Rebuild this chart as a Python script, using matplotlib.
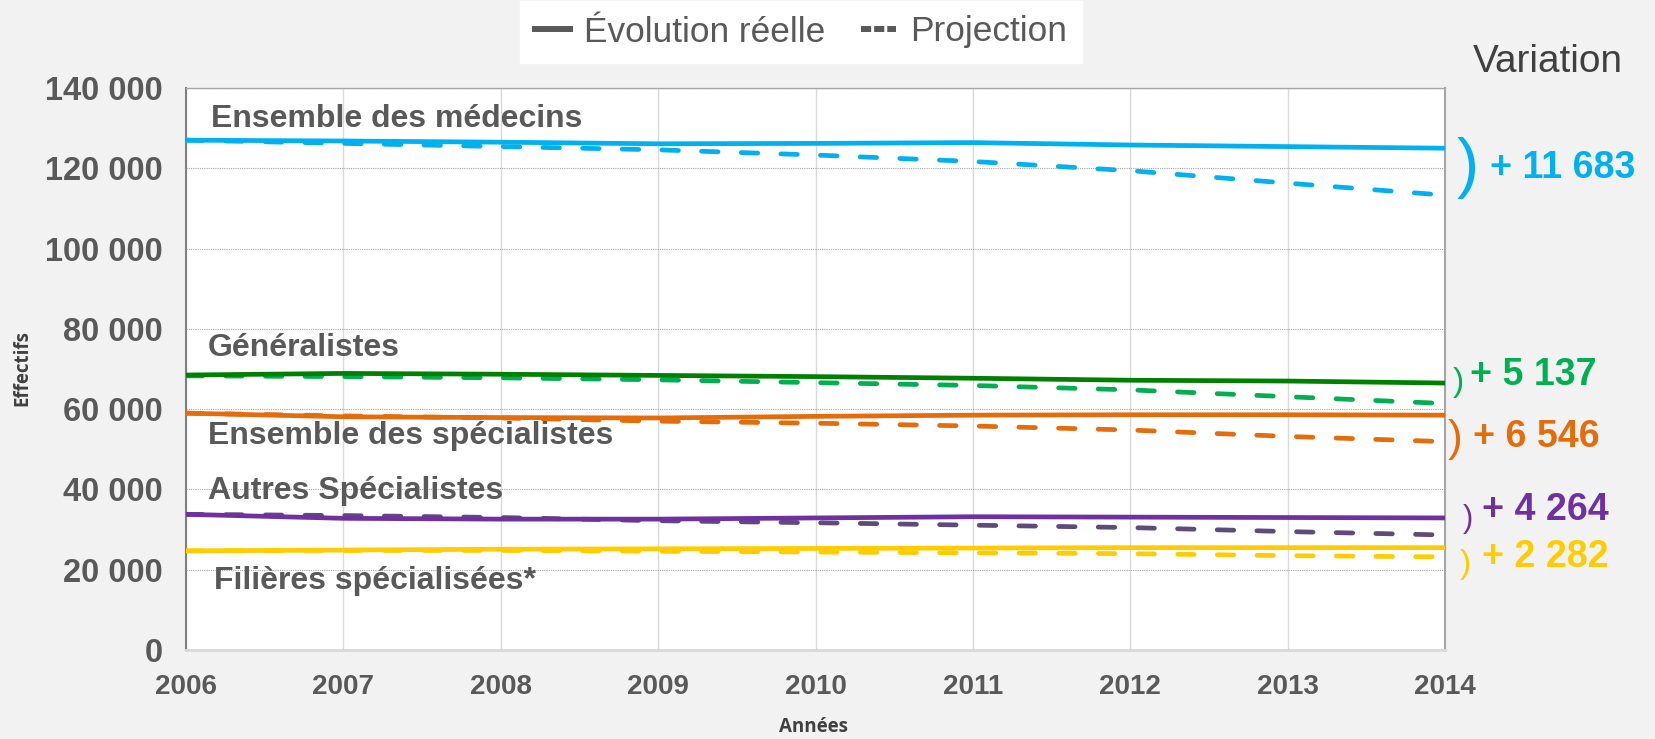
import matplotlib
matplotlib.use("Agg")
import matplotlib.pyplot as plt
from matplotlib.lines import Line2D
import matplotlib.font_manager as fm

plt.rcParams['font.family'] = ['Liberation Sans', 'DejaVu Sans']

years = [2006, 2007, 2008, 2009, 2010, 2011, 2012, 2013, 2014]

medecins_reel = [127000, 126800, 126500, 126100, 126200, 126400, 125800, 125400, 125000]
medecins_proj = [127000, 126200, 125400, 124600, 123300, 121700, 119400, 116300, 113300]
generalistes_reel = [68500, 68900, 68700, 68400, 68100, 67700, 67200, 67000, 66500]
generalistes_proj = [68300, 68100, 67800, 67300, 66600, 65900, 64800, 63100, 61400]
specialistes_reel = [59000, 58100, 57900, 57800, 58200, 58500, 58600, 58600, 58500]
specialistes_proj = [59000, 58300, 57800, 57000, 56500, 55800, 54800, 53200, 51900]
autres_reel = [33800, 32800, 32600, 32600, 32900, 33200, 33100, 33000, 32900]
autres_proj = [33800, 33500, 33000, 32200, 31700, 31100, 30500, 29500, 28650]
filieres_reel = [24700, 24900, 25100, 25200, 25300, 25400, 25500, 25500, 25500]
filieres_proj = [24700, 24800, 24800, 24600, 24400, 24200, 24000, 23500, 23200]

series_labels = ["Ensemble des médecins", "Généralistes", "Ensemble des spécialistes",
                 "Autres Spécialistes", "Filières spécialisées*"]
variation_labels = ["+ 11 683", "+ 5 137", "+ 6 546", "+ 4 264", "+ 2 282"]
y_ticks = [0, 20000, 40000, 60000, 80000, 100000, 120000, 140000]
y_ticklabels = ["0", "20 000", "40 000", "60 000", "80 000", "100 000", "120 000", "140 000"]

# narrow font if available
try:
    fm.findfont(fm.FontProperties(family='Liberation Sans Narrow'), fallback_to_default=False)
    NARROW = ['Liberation Sans Narrow', 'Liberation Sans', 'DejaVu Sans']
    nscale = 1.0
except Exception:
    NARROW = ['Liberation Sans', 'DejaVu Sans']
    nscale = 0.82

W, H = 1656, 739
fig = plt.figure(figsize=(W / 100, H / 100), dpi=100)
fig.patch.set_facecolor('#F2F2F2')
ax = fig.add_axes([186 / W, 1 - 650 / H, (1445 - 186) / W, (650 - 88) / H])
ax.set_facecolor('white')

gray = '#595959'
lw = 3.4
dash = (0, (3.5, 4.9))

pairs = [
    (medecins_reel, medecins_proj, '#00B0F0', '#00B0F0'),
    (generalistes_reel, generalistes_proj, '#008000', '#00B050'),
    (specialistes_reel, specialistes_proj, '#E46C0A', '#E46C0A'),
    (autres_reel, autres_proj, '#7030A0', '#604A7B'),
    (filieres_reel, filieres_proj, '#FFCC00', '#FFCC00'),
]
for reel, proj, c_r, c_p in pairs:
    ax.plot(years, proj, color=c_p, lw=lw, linestyle=dash, dash_capstyle='round', zorder=3)
    ax.plot(years, reel, color=c_r, lw=lw, solid_capstyle='butt', zorder=4)

ax.set_xlim(2006, 2014)
ax.set_ylim(0, 140000)
ax.set_xticks(years)
ax.set_xticklabels([str(y) for y in years])
ax.set_yticks(y_ticks)
ax.set_yticklabels(y_ticklabels)
ax.tick_params(axis='both', length=0, labelcolor=gray)
ax.tick_params(axis='x', pad=17, labelsize=20)
ax.tick_params(axis='y', pad=17, labelsize=23.5)
for lab in ax.get_xticklabels() + ax.get_yticklabels():
    lab.set_fontweight('bold')

ax.grid(axis='y', color='#A6A6A6', linestyle=(0, (1, 1)), lw=0.8)
ax.grid(axis='x', color='#D9D9D9', linestyle='-', lw=1.0)
ax.set_axisbelow(True)
ax.spines['left'].set_color('#808080')
ax.spines['left'].set_linewidth(1.5)
ax.spines['bottom'].set_color('#D9D9D9')
ax.spines['bottom'].set_linewidth(2)
ax.spines['right'].set_color('#A6A6A6')
ax.spines['right'].set_linewidth(1.5)
ax.spines['top'].set_color('#A6A6A6')
ax.spines['top'].set_linewidth(1.0)

# axis titles (figure pixel positions)
fig.text(22 / W, 1 - 368 / H, "Effectifs", family=['Open Sans', 'DejaVu Sans'], fontsize=13.5,
         fontweight='bold', color='#404040', rotation=90, ha='center', va='center')
fig.text(814 / W, 1 - 727 / H, "Années", family=['Open Sans', 'DejaVu Sans'], fontsize=13.5,
         fontweight='bold', color='#404040', ha='center', va='center')

label_pos = [(2006.16, 132300), (2006.14, 75200), (2006.14, 53300), (2006.14, 39600), (2006.18, 17200)]
for txt, (x, y) in zip(series_labels, label_pos):
    ax.text(x, y, txt, fontsize=23, fontweight='bold', color=gray, ha='left', va='center', zorder=5)

# variation annotations (figure pixel coords)
var_colors = ['#00B0F0', '#00B050', '#E46C0A', '#7030A0', '#FFCC00']
var_pos = [(1490, 168), (1470, 375), (1473, 437), (1482, 510), (1482, 557)]
paren_pos = [(1468, 168, 48), (1458, 382, 24), (1455, 440, 32), (1468, 519, 22), (1465, 565, 24)]
for txt, col, (x, y), (px, py, ps) in zip(variation_labels, var_colors, var_pos, paren_pos):
    fig.text(px / W, 1 - py / H, ")", family=NARROW, color=col, fontsize=ps,
             ha='center', va='center')
    fig.text(x / W, 1 - y / H, txt, family=NARROW, color=col, fontsize=33 * nscale,
             fontweight='bold', ha='left', va='center')

fig.text(1548 / W, 1 - 62 / H, "Variation", family=NARROW, color='#404040', fontsize=34 * nscale,
         ha='center', va='center')

handles = [Line2D([], [], color=gray, lw=4.3),
           Line2D([], [], color=gray, lw=4.3, linestyle=(0, (1.7, 0.5)))]
leg = fig.legend(handles, ["Évolution réelle", "Projection"], loc='center',
                 bbox_to_anchor=(801 / W, 1 - 32 / H), ncol=2, frameon=True,
                 fancybox=False, framealpha=1, handlelength=1.0,
                 columnspacing=1.0, handletextpad=0.4, borderpad=0.42,
                 prop=fm.FontProperties(family=NARROW, size=31 * nscale))
leg.get_frame().set_facecolor('white')
leg.get_frame().set_edgecolor('white')
for t in leg.get_texts():
    t.set_color(gray)

fig.savefig("out.png", dpi=100, facecolor=fig.get_facecolor())
